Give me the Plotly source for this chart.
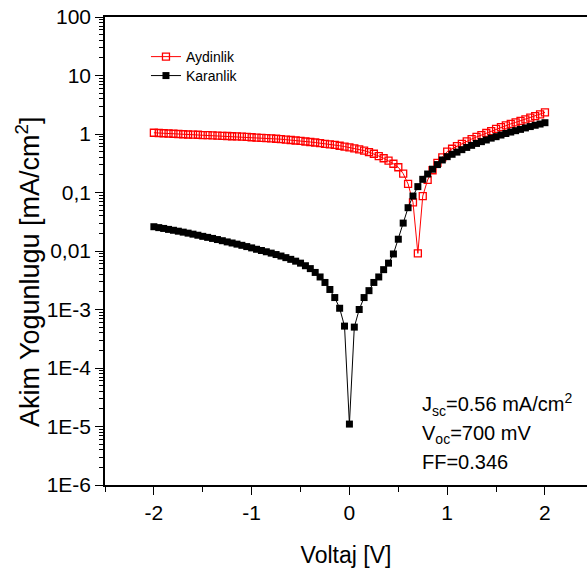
import plotly.graph_objects as go

voltage = [-2.00, -1.95, -1.90, -1.85, -1.80, -1.75, -1.70, -1.65, -1.60, -1.55,
           -1.50, -1.45, -1.40, -1.35, -1.30, -1.25, -1.20, -1.15, -1.10, -1.05,
           -1.00, -0.95, -0.90, -0.85, -0.80, -0.75, -0.70, -0.65, -0.60, -0.55,
           -0.50, -0.45, -0.40, -0.35, -0.30, -0.25, -0.20, -0.15, -0.10, -0.05,
           0.00, 0.05, 0.10, 0.15, 0.20, 0.25, 0.30, 0.35, 0.40, 0.45,
           0.50, 0.55, 0.60, 0.65, 0.70, 0.75, 0.80, 0.85, 0.90, 0.95,
           1.00, 1.05, 1.10, 1.15, 1.20, 1.25, 1.30, 1.35, 1.40, 1.45,
           1.50, 1.55, 1.60, 1.65, 1.70, 1.75, 1.80, 1.85, 1.90, 1.95, 2.00]

aydinlik = [1.05, 1.04, 1.03, 1.02, 1.01, 1.00, 0.99, 0.98, 0.975, 0.97,
            0.96, 0.955, 0.945, 0.94, 0.93, 0.925, 0.915, 0.91, 0.90, 0.89,
            0.88, 0.87, 0.86, 0.85, 0.84, 0.83, 0.815, 0.80, 0.79, 0.775,
            0.76, 0.745, 0.73, 0.715, 0.70, 0.68, 0.665, 0.65, 0.63, 0.61,
            0.59, 0.57, 0.545, 0.52, 0.49, 0.46, 0.42, 0.385, 0.35, 0.31,
            0.27, 0.21, 0.14, 0.068, 0.0091, 0.087, 0.164, 0.24, 0.32, 0.40,
            0.50, 0.56, 0.62, 0.68, 0.75, 0.82, 0.89, 0.96, 1.04, 1.12,
            1.22, 1.31, 1.40, 1.49, 1.58, 1.68, 1.78, 1.90, 2.02, 2.17, 2.34]

karanlik = [0.0260, 0.0251, 0.0243, 0.0234, 0.0226, 0.0218, 0.0210, 0.0202, 0.0194, 0.0186,
            0.0178, 0.0171, 0.0164, 0.0157, 0.0150, 0.0143, 0.0137, 0.0131, 0.0125, 0.0119,
            0.0113, 0.0107, 0.0102, 0.0097, 0.0092, 0.0087, 0.0082, 0.0077, 0.0072, 0.0067,
            0.0062, 0.0056, 0.0050, 0.0043, 0.0036, 0.0029, 0.0022, 0.0016, 0.00105, 0.00052,
            0.000011, 0.00050, 0.00100, 0.0016, 0.0021, 0.0029, 0.0036, 0.0048, 0.0062, 0.0089,
            0.0159, 0.030, 0.055, 0.087, 0.126, 0.168, 0.207, 0.25, 0.30, 0.36,
            0.41, 0.45, 0.49, 0.54, 0.59, 0.64, 0.69, 0.74, 0.79, 0.85,
            0.90, 0.96, 1.02, 1.08, 1.14, 1.20, 1.27, 1.34, 1.41, 1.48, 1.56]

y_tick_vals = [1e-6, 1e-5, 1e-4, 1e-3, 1e-2, 1e-1, 1, 10, 100]
y_tick_text = ["1E-6", "1E-5", "1E-4", "1E-3", "0,01", "0,1", "1", "10", "100"]
x_tick_vals = [-2, -1, 0, 1, 2]
x_tick_text = ["-2", "-1", "0", "1", "2"]

fig = go.Figure()
fig.add_trace(go.Scatter(
    x=voltage, y=aydinlik, mode="lines+markers", name="Aydinlik", legend="legend",
    line=dict(color="#ff0000", width=1),
    marker=dict(symbol="square-open", size=7, color="#ff0000", line=dict(width=1.3, color="#ff0000")),
))
fig.add_trace(go.Scatter(
    x=voltage, y=karanlik, mode="lines+markers", name="Karanlik", legend="legend2",
    line=dict(color="#000000", width=1),
    marker=dict(symbol="square", size=7, color="#000000"),
))

font_family = "Liberation Sans, Arial, sans-serif"
leg_common = dict(xanchor="left", yanchor="middle", font=dict(size=14, family=font_family),
                  bgcolor="rgba(0,0,0,0)", itemwidth=30)

fig.update_layout(
    width=587, height=574,
    margin=dict(l=105, r=0, t=17, b=89),
    paper_bgcolor="white", plot_bgcolor="white",
    font=dict(family=font_family, color="black"),
    showlegend=True,
    legend=dict(x=0.085, y=0.9145, **leg_common),
    legend2=dict(x=0.085, y=0.874, **leg_common),
    xaxis=dict(
        range=[-2.5, 2.43], showgrid=False, zeroline=False, automargin=False,
        showline=True, linecolor="black", linewidth=1.5, mirror=True,
        ticks="outside", ticklen=8, tickwidth=1.3, tickcolor="black",
        tickvals=x_tick_vals, ticktext=x_tick_text,
        tickfont=dict(size=21),
        minor=dict(ticks="outside", ticklen=5, tickwidth=1.3, tickcolor="black", dtick=0.5, tick0=0.5),
        title=dict(text="Voltaj [V]", font=dict(size=23), standoff=24),
    ),
    yaxis=dict(
        type="log", range=[-6, 2], showgrid=False, zeroline=False, automargin=False,
        showline=True, linecolor="black", linewidth=1.5,
        ticks="outside", ticklen=8, tickwidth=1.3, tickcolor="black",
        tickvals=y_tick_vals, ticktext=y_tick_text,
        tickfont=dict(size=21), ticklabeloverflow="allow",
        minor=dict(ticks="outside", ticklen=4, tickwidth=1, tickcolor="black", dtick="D1"),
    ),
)

# y-axis title (placed as rotated text to match reference position)
fig.add_annotation(x=0, y=0.455, xref="paper", yref="paper",
                   text="Akim Yogunlugu [mA/cm<sup>2</sup>]", textangle=-90,
                   showarrow=False, xanchor="center", yanchor="middle", xshift=-77,
                   font=dict(size=27, family=font_family, color="black"))

ann_font = dict(size=20, family=font_family, color="black")
fig.add_annotation(x=0.72, y=-4.63, xref="x", yref="y", text="J<sub>sc</sub>=0.56 mA/cm<sup>2</sup>",
                   showarrow=False, xanchor="left", yanchor="middle", font=ann_font)
fig.add_annotation(x=0.72, y=-5.13, xref="x", yref="y", text="V<sub>oc</sub>=700 mV",
                   showarrow=False, xanchor="left", yanchor="middle", font=ann_font)
fig.add_annotation(x=0.72, y=-5.6, xref="x", yref="y", text="FF=0.346",
                   showarrow=False, xanchor="left", yanchor="middle", font=ann_font)

fig.write_html("out.html", config={"displayModeBar": False},
               post_script="document.body.style.margin='0px';")
